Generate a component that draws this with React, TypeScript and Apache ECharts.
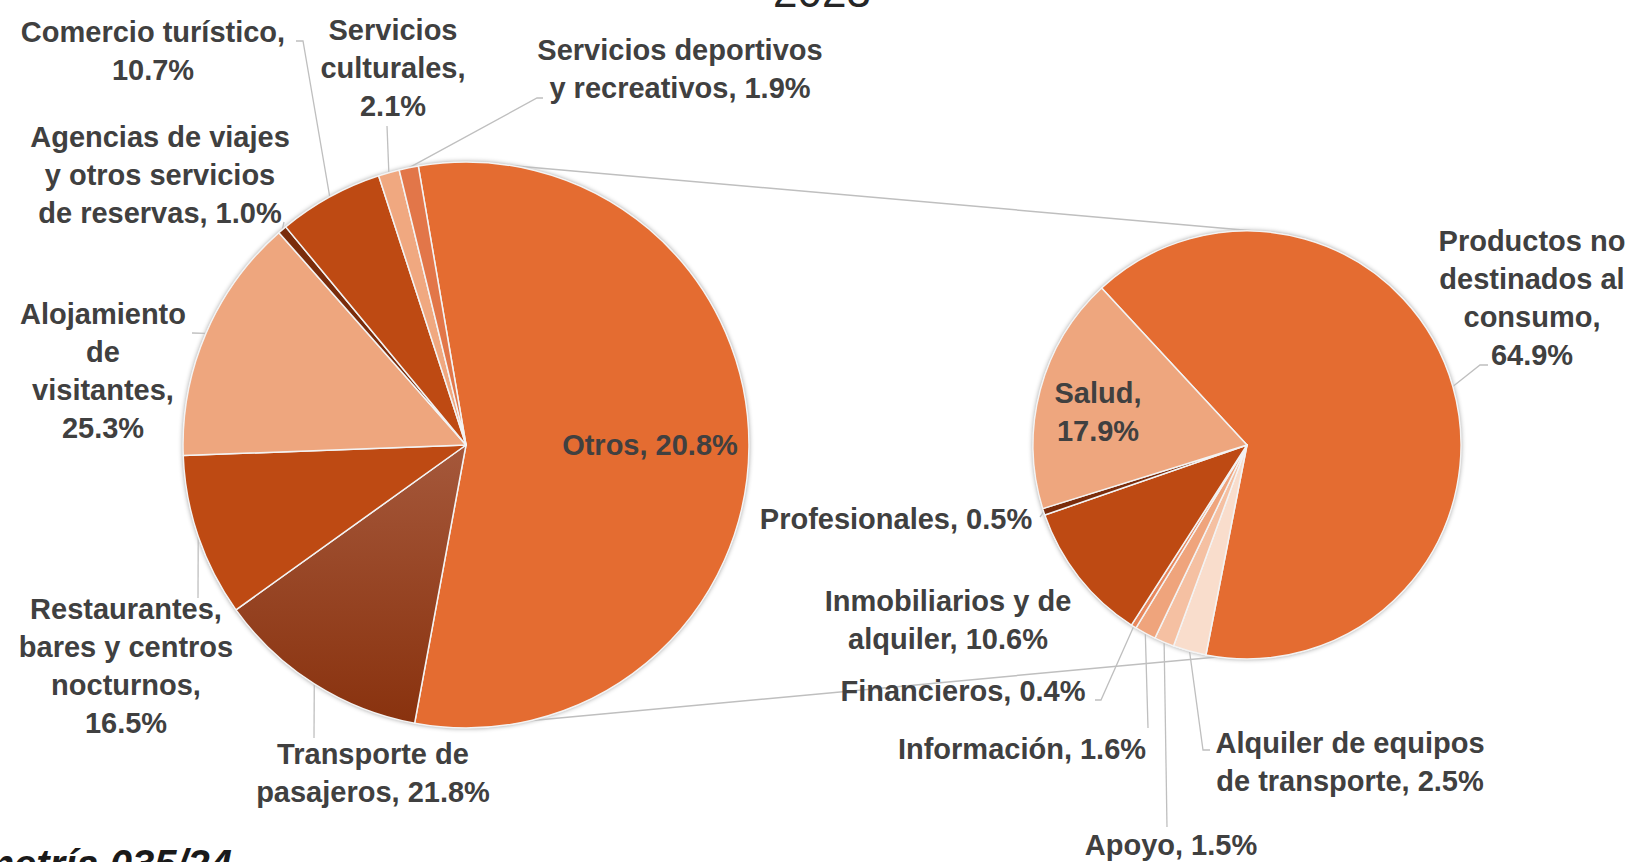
import React, { useEffect, useRef } from 'react';
import * as echarts from 'echarts';

// ---------------- DATA ----------------
const titleText = '2023';
const sourceText = 'metría 035/24';

// Main pie (clockwise from "Otros")
const leftNames = [
  'Otros',
  'Transporte de\npasajeros',
  'Restaurantes,\nbares y centros\nnocturnos',
  'Alojamiento\nde\nvisitantes',
  'Agencias de viajes\ny otros servicios\nde reservas',
  'Comercio turístico',
  'Servicios\nculturales',
  'Servicios deportivos\ny recreativos',
];
// slice sizes as drawn (share of the circle, %)
const leftShares = [55.6, 12.2, 9.3, 14.1, 0.5, 6.0, 1.2, 1.1];
// percentages printed in the labels
const leftPct = [20.8, 21.8, 16.5, 25.3, 1.0, 10.7, 2.1, 1.9];

// Secondary pie (clockwise from "Productos no destinados al consumo")
const rightNames = [
  'Productos no\ndestinados al\nconsumo',
  'Alquiler de equipos\nde transporte',
  'Apoyo',
  'Información',
  'Financieros',
  'Inmobiliarios y de\nalquiler',
  'Profesionales',
  'Salud',
];
const rightPct = [64.9, 2.5, 1.5, 1.6, 0.4, 10.6, 0.5, 17.9];

// ---------------- LAYOUT / STYLE ----------------
const W = 1636;
const H = 862;
const LEFT = { cx: 466, cy: 445, r: 283, start: 99.7 };
const RIGHT = { cx: 1247, cy: 445, r: 214, start: 132.8 };

const FONT = "'Liberation Sans', Arial, sans-serif";
const TEXT = '#404040';
const LINE = '#bfbfbf';

type Lay = { x: number; y: number; br?: boolean; inside?: boolean; line?: number[][]; noLine?: boolean };

const leftLayout: Lay[] = [
  { x: 650, y: 445, inside: true },
  { x: 373, y: 773, line: [[314, 738], [314, 738]] },
  { x: 126, y: 666, br: true, line: [[198, 598], [198, 598]] },
  { x: 103, y: 371, br: true, line: [[192, 333], [192, 333]] },
  { x: 160, y: 175, line: [[284, 222], [284, 222]] },
  { x: 153, y: 51, br: true, line: [[303, 41], [296, 41]] },
  { x: 393, y: 68, br: true, line: [[387, 126], [387, 126]] },
  { x: 680, y: 69, line: [[537, 98], [543, 98]] },
];

const rightLayout: Lay[] = [
  { x: 1532, y: 298, br: true, line: [[1480, 365], [1488, 365]] },
  { x: 1350, y: 762, line: [[1203, 750], [1210, 750]] },
  { x: 1171, y: 845, line: [[1167, 827], [1167, 827]] },
  { x: 1022, y: 749, line: [[1148, 728], [1148, 728]] },
  { x: 963, y: 691, line: [[1101, 700], [1095, 700]] },
  { x: 948, y: 620, noLine: true },
  { x: 896, y: 519, line: [[1040, 517], [1040, 517]] },
  { x: 1098, y: 412, br: true, inside: true },
];

const leftColors: any[] = [
  '#E46C31',
  {
    type: 'linear', x: 0, y: 0, x2: 0, y2: 1,
    colorStops: [{ offset: 0, color: '#A5583B' }, { offset: 1, color: '#89320E' }],
  },
  '#BE4A13',
  '#EEA67E',
  '#7A2C0B',
  '#BE4A13',
  '#F0A880',
  '#E27649',
];
const rightColors = ['#E46C31', '#F9DDCC', '#F5C0A2', '#EFA47C', '#E8875C', '#BE4A13', '#7A2C0B', '#EEA67E'];

function sum(a: number[]) {
  return a.reduce((s, v) => s + v, 0);
}

function edgePoint(P: typeof LEFT, values: number[], i: number) {
  const total = sum(values);
  let cum = 0;
  for (let j = 0; j < i; j++) cum += values[j];
  const mid = P.start - ((cum + values[i] / 2) / total) * 360;
  const a = (mid * Math.PI) / 180;
  return [P.cx + P.r * Math.cos(a), P.cy - P.r * Math.sin(a)];
}

function circlePoint(P: typeof LEFT, thetaFromTop: number) {
  const a = (thetaFromTop * Math.PI) / 180;
  return [P.cx + P.r * Math.sin(a), P.cy - P.r * Math.cos(a)];
}

function labelText(name: string, pct: number, br?: boolean) {
  return `${name},${br ? '\n' : ' '}${pct.toFixed(1)}%`;
}

function buildSeries(
  P: typeof LEFT,
  names: string[],
  values: number[],
  pcts: number[],
  layout: Lay[],
  colors: any[],
) {
  return {
    type: 'pie',
    center: [P.cx, P.cy],
    radius: P.r,
    startAngle: P.start,
    clockwise: true,
    avoidLabelOverlap: false,
    animation: false,
    itemStyle: { borderColor: '#F3F3F3', borderWidth: 1.5 },
    label: {
      show: true,
      position: 'outside',
      fontFamily: FONT,
      fontSize: 29,
      fontWeight: 'bold',
      color: TEXT,
      lineHeight: 38,
      align: 'center',
      formatter: (p: any) => labelText(names[p.dataIndex], pcts[p.dataIndex], layout[p.dataIndex].br),
    },
    labelLine: { show: true, length: 10, length2: 10, lineStyle: { color: LINE, width: 1.3 } },
    labelLayout: (params: any) => {
      const lay = layout[params.dataIndex];
      const res: any = { x: lay.x, y: lay.y, align: 'center', verticalAlign: 'middle' };
      if (lay.line) {
        const e = edgePoint(P, values, params.dataIndex);
        res.labelLinePoints = [e, lay.line[0], lay.line[1]];
      }
      return res;
    },
    emphasis: { disabled: true },
    data: values.map((v, i) => {
      const lay = layout[i];
      const item: any = { value: v, name: names[i].replace(/\n/g, ' '), itemStyle: { color: colors[i] } };
      if (lay.inside) {
        item.label = { position: 'inside' };
        item.labelLine = { show: false };
      } else if (lay.noLine) {
        item.labelLine = { show: false };
      }
      return item;
    }),
  };
}

export default function App() {
  const ref = useRef<HTMLDivElement>(null);

  useEffect(() => {
    if (!ref.current) return;
    const chart = echarts.init(ref.current, undefined, { renderer: 'svg' });

    const upL = circlePoint(LEFT, 9);
    const upR = circlePoint(RIGHT, 3.5);
    const loL = circlePoint(LEFT, 167);
    const loR = circlePoint(RIGHT, 188);

    chart.setOption({
      animation: false,
      backgroundColor: '#ffffff',
      graphic: [
        {
          type: 'circle', z: 0, silent: true,
          shape: { cx: LEFT.cx, cy: LEFT.cy, r: LEFT.r },
          style: { fill: '#ffffff', shadowBlur: 5, shadowColor: 'rgba(0,0,0,0.45)' },
        },
        {
          type: 'circle', z: 0, silent: true,
          shape: { cx: RIGHT.cx, cy: RIGHT.cy, r: RIGHT.r },
          style: { fill: '#ffffff', shadowBlur: 5, shadowColor: 'rgba(0,0,0,0.45)' },
        },
        {
          type: 'line', z: 0, silent: true,
          shape: { x1: upL[0], y1: upL[1], x2: upR[0], y2: upR[1] },
          style: { stroke: LINE, lineWidth: 1.5 },
        },
        {
          type: 'line', z: 0, silent: true,
          shape: { x1: loL[0], y1: loL[1], x2: loR[0], y2: loR[1] },
          style: { stroke: LINE, lineWidth: 1.5 },
        },
        {
          type: 'text', z: 5, silent: true,
          x: 822, y: -9,
          style: {
            text: titleText, fontFamily: FONT, fontSize: 44, fill: '#262626',
            textAlign: 'center', textVerticalAlign: 'middle',
          },
        },
        {
          type: 'text', z: 5, silent: true,
          x: 232, y: 864,
          style: {
            text: sourceText, fontFamily: FONT, fontSize: 40, fontWeight: 'bold', fontStyle: 'italic',
            fill: '#1a1a1a', textAlign: 'right', textVerticalAlign: 'middle',
          },
        },
      ],
      series: [
        buildSeries(LEFT, leftNames, leftShares, leftPct, leftLayout, leftColors),
        buildSeries(RIGHT, rightNames, rightPct, rightPct, rightLayout, rightColors),
      ],
    });

    return () => chart.dispose();
  }, []);

  return (
    <div
      ref={ref}
      style={{ position: 'absolute', left: 0, top: 0, width: W, height: H, background: '#fff' }}
    />
  );
}
